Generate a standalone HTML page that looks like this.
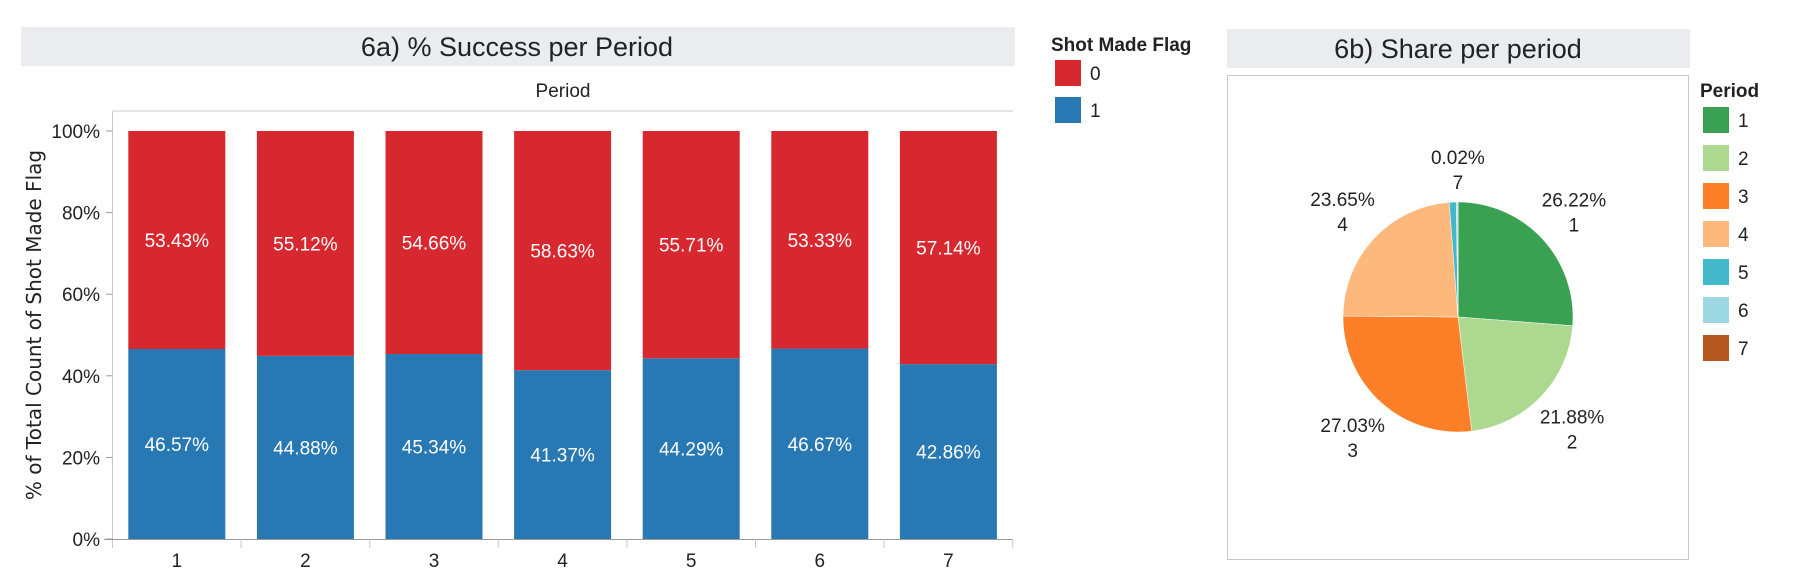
<!DOCTYPE html>
<html><head><meta charset="utf-8"><style>
body{margin:0;background:#fff;font-family:"Liberation Sans",Arial,sans-serif}
svg text{font-family:"Liberation Sans",Arial,sans-serif}
</style></head><body>
<svg width="1798" height="582" xmlns="http://www.w3.org/2000/svg">
<rect x="21" y="27" width="994" height="39" fill="#ebecf0"/>
<text x="517" y="56" font-size="27" text-anchor="middle" fill="#222">6a) % Success per Period</text>
<text x="563" y="97" font-size="19" text-anchor="middle" fill="#222">Period</text>
<text transform="translate(41,325) rotate(-90)" font-size="20" text-anchor="middle" fill="#222" style="font-family:'DejaVu Sans',sans-serif">% of Total Count of Shot Made Flag</text>
<line x1="112.5" y1="111" x2="1013" y2="111" stroke="#c8c8c8"/>
<line x1="112.5" y1="111" x2="112.5" y2="548" stroke="#c8c8c8"/>
<line x1="104" y1="539.5" x2="1013" y2="539.5" stroke="#999"/>
<g id="bars"></g><g id="yticks"></g><g id="xticks"></g>
<text x="1051" y="51" font-size="19" font-weight="bold" fill="#222">Shot Made Flag</text>
<rect x="1055" y="60" width="26" height="26" fill="#d7282f"/>
<text x="1090" y="80" font-size="19" fill="#222">0</text>
<rect x="1055" y="97" width="26" height="26" fill="#2878b4"/>
<text x="1090" y="117" font-size="19" fill="#222">1</text>
<rect x="1227" y="29" width="463" height="39" fill="#ebecf0"/>
<text x="1458" y="58" font-size="27" text-anchor="middle" fill="#222">6b) Share per period</text>
<rect x="1227.5" y="75.5" width="461" height="484" fill="none" stroke="#c8c8c8"/>
<g id="pie"></g>
<text x="1700" y="97" font-size="19" font-weight="bold" fill="#222">Period</text>
<g id="plegend"></g>
</svg>
<script>
const periods=["1","2","3","4","5","6","7"];
const missPct=[53.43,55.12,54.66,58.63,55.71,53.33,57.14];
const madePct=[46.57,44.88,45.34,41.37,44.29,46.67,42.86];
const yTicks=[0,20,40,60,80,100];
const share=[26.22,21.88,27.03,23.65,0.98,0.22,0.02];
const pieColors=["#3aa153","#acd98f","#fd8028","#fdb97c","#43b7cc","#9dd9e4","#b5581f"];
const NS="http://www.w3.org/2000/svg";
function mk(t,a,p){const e=document.createElementNS(NS,t);for(const k in a)e.setAttribute(k,a[k]);p.appendChild(e);return e;}
const y0=539,y100=131,bx0=112.5,band=128.6,bw=97;
const y=v=>y0-(v/100)*(y0-y100);
const x=i=>bx0+band*i+band/2;
const bars=document.getElementById('bars');
periods.forEach((p,i)=>{
 const tot=missPct[i]+madePct[i];
 const mv=madePct[i]/tot*100;
 let r=mk('rect',{x:x(i)-bw/2,y:y(mv),width:bw,height:y0-y(mv),fill:'#2878b4'},bars);
 
 
 r=mk('rect',{x:x(i)-bw/2,y:y(100),width:bw,height:y(mv)-y(100),fill:'#d7282f'},bars);
 
 
 let t=mk('text',{x:x(i),y:(y(mv)+y(100))/2+7,'font-size':19,fill:'#fff','text-anchor':'middle'},bars);
 t.textContent=missPct[i].toFixed(2)+'%';
 
 
 t=mk('text',{x:x(i),y:(y(mv)+y0)/2+7,'font-size':19,fill:'#fff','text-anchor':'middle'},bars);
 t.textContent=madePct[i].toFixed(2)+'%';
 
 
});
const yt=document.getElementById('yticks');
yTicks.forEach(v=>{
 const l=mk('line',{x1:106,x2:112.5,y1:y(v),y2:y(v),stroke:'#999'},yt);
 
 
 const t=mk('text',{x:100,y:y(v)+7,'font-size':19,fill:'#222','text-anchor':'end'},yt);
 t.textContent=v+'%';
 
 
});
const xt=document.getElementById('xticks');
periods.forEach((p,i)=>{
 const l=mk('line',{x1:bx0+band*(i+1),x2:bx0+band*(i+1),y1:539,y2:548,stroke:'#c8c8c8'},xt);
 
 
 const t=mk('text',{x:x(i),y:567,'font-size':19,fill:'#222','text-anchor':'middle'},xt);
 t.textContent=p;
 
 
});
const pie=document.getElementById('pie');
const cx=1458,cy=317,R=115;
const tot=share.reduce((a,b)=>a+b,0);
let a0=0;
share.forEach((s,i)=>{
 const a1=a0+s/tot*2*Math.PI;
 const p0=[cx+R*Math.sin(a0),cy-R*Math.cos(a0)],p1=[cx+R*Math.sin(a1),cy-R*Math.cos(a1)];
 const large=(a1-a0)>Math.PI?1:0;
 const path=mk('path',{d:`M${cx},${cy}L${p0[0]},${p0[1]}A${R},${R} 0 ${large} 1 ${p1[0]},${p1[1]}Z`,fill:pieColors[i],stroke:'#fff','stroke-width':0.5},pie);
 
 
 if(i<4||i==6){
  const am=(a0+a1)/2, LR=i==6?150:158;
  const lx=cx+LR*Math.sin(am), ly=cy-LR*Math.cos(am);
  const t=mk('text',{x:lx,y:ly-3,'font-size':19,fill:'#222','text-anchor':'middle'},pie);
  t.textContent=s.toFixed(2)+'%';
  
  
  const t2=mk('text',{x:lx,y:ly+22,'font-size':19,fill:'#222','text-anchor':'middle'},pie);
  t2.textContent=periods[i];
  
  
 }
 a0=a1;
});
const pl=document.getElementById('plegend');
periods.forEach((p,i)=>{
 const r=mk('rect',{x:1703,y:107+i*38,width:26,height:26,fill:pieColors[i]},pl);
 
 
 const t=mk('text',{x:1738,y:127+i*38,'font-size':19,fill:'#222'},pl);
 t.textContent=p;
 
 
});
</script>
</body></html>
